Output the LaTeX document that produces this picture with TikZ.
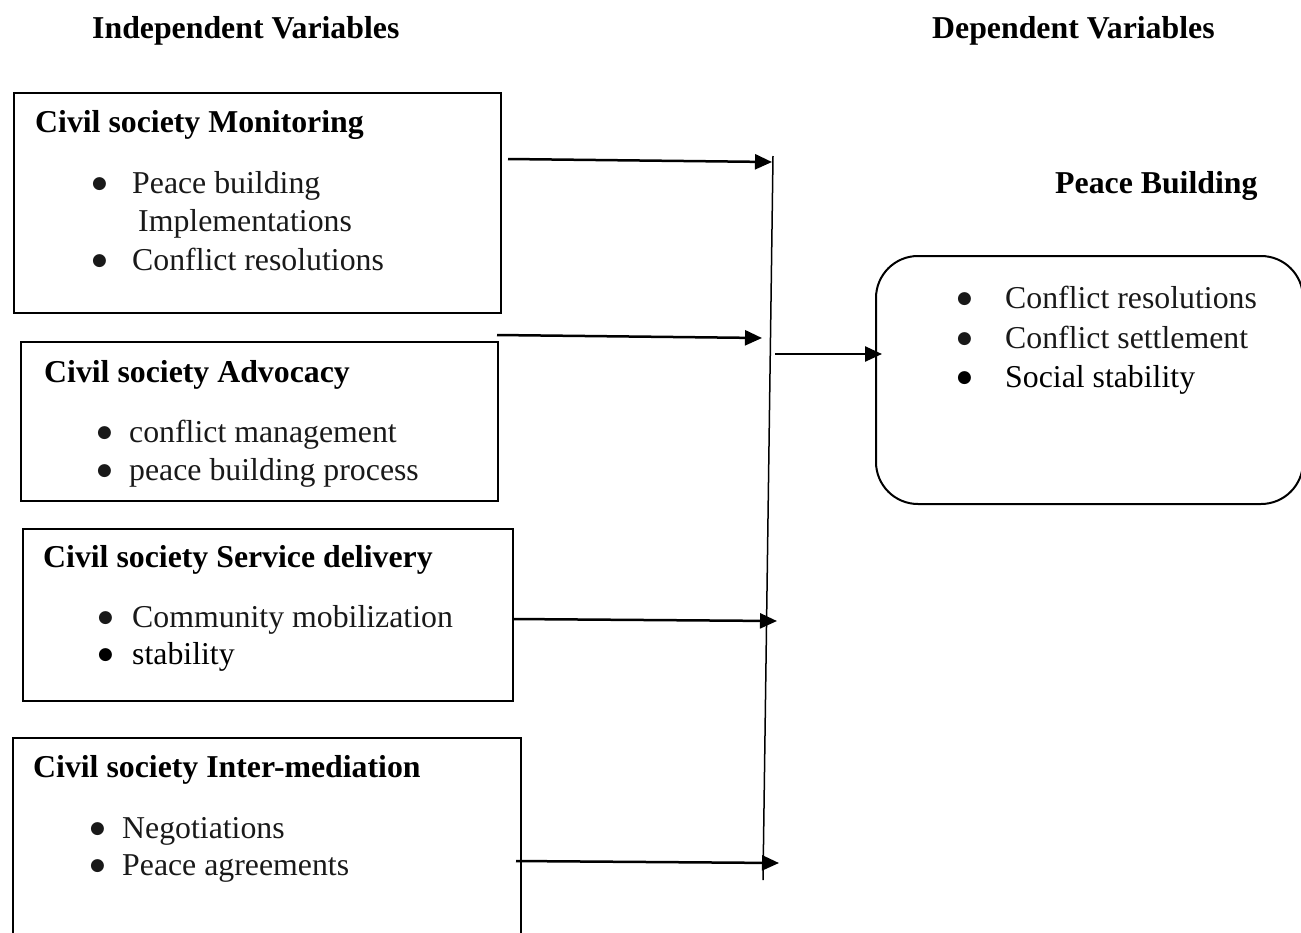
\documentclass[tikz,border=0pt]{standalone}
\usepackage{fontspec}
\setmainfont{Liberation Serif}
\newfontfamily\dotfont{DejaVu Sans}
\usetikzlibrary{arrows.meta,positioning}
\newcommand{\bul}[1]{\llap{\makebox[#1pt][l]{\raisebox{5pt}{\fontsize{17}{17}\dotfont ●}}}}

\begin{document}
\begin{tikzpicture}[x=1pt,y=-1pt,
  panel/.style={draw,line width=2pt,inner sep=0pt,anchor=north west},
  hd/.style={font=\fontsize{31.8}{39}\selectfont\bfseries,anchor=base west,inner sep=0pt},
  itm/.style={font=\fontsize{31.8}{39}\selectfont,text=black!90,anchor=base west,inner sep=0pt},
  flow/.style={line width=2.5pt,-{Triangle[length=17pt,width=15pt]}}]
  \useasboundingbox (0,0) rectangle (1301,932);
  % column headings
  \node[hd] (indep) at (92,38) {Independent Variables};
  \node[hd] (dep) at (932,38) {Dependent Variables};
  % independent variables
  \node[panel,minimum width=487pt,minimum height=220pt] (mon) at (13,92) {};
  \node[hd] (mon t) at (35,132) {Civil society Monitoring};
  \node[itm] (mon 1) at (132,193) {\bul{40.1}Peace building};
  \node[itm] (mon 2) at (138,231) {Implementations};
  \node[itm] (mon 3) at (132,270) {\bul{40.1}Conflict resolutions};
  \node[panel,minimum width=477pt,minimum height=159pt] (adv) at (20,341) {};
  \node[hd] (adv t) at (44,382) {Civil society Advocacy};
  \node[itm] (adv 1) at (129,442) {\bul{32.1}conflict management};
  \node[itm] (adv 2) at (129,480) {\bul{32.1}peace building process};
  \node[panel,minimum width=490pt,minimum height=172pt] (srv) at (22,528) {};
  \node[hd] (srv t) at (43,567) {Civil society Service delivery};
  \node[itm] (srv 1) at (132,627) {\bul{34.1}Community mobilization};
  \node[itm,text=black] (srv 2) at (132,664) {\bul{34.1}stability};
  \node[panel,minimum width=508pt,minimum height=220pt] (med) at (12,737) {};
  \node[hd] (med t) at (33,777) {Civil society Inter-mediation};
  \node[itm] (med 1) at (122,838) {\bul{32.1}Negotiations};
  \node[itm] (med 2) at (122,875) {\bul{32.1}Peace agreements};
  % dependent variable
  \node[hd] (pb t) at (1055,193) {Peace Building};
  \node[panel,rounded corners=42pt,minimum width=427pt,minimum height=248pt] (pb) at (875,255) {};
  \node[itm] (pb 1) at (1005,308) {\bul{48.1}Conflict resolutions};
  \node[itm] (pb 2) at (1005,348) {\bul{48.1}Conflict settlement};
  \node[itm,text=black] (pb 3) at (1005,387) {\bul{48.1}Social stability};
  % collecting line and arrows
  \coordinate (bus top) at (773,156);
  \coordinate (bus bot) at (763,880);
  \draw[line width=1.5pt] (bus top) -- (bus bot);
  \coordinate (s1) at (508,159);  \coordinate (e1) at (772,162);
  \coordinate (s2) at (497,335);  \coordinate (e2) at (762,338);
  \coordinate (s3) at (513,619);  \coordinate (e3) at (777,621);
  \coordinate (s4) at (516,861);  \coordinate (e4) at (779,863);
  \coordinate (s5) at (775,354);  \coordinate (e5) at (882,354);
  \draw[flow] (s1) -- (e1);
  \draw[flow] (s2) -- (e2);
  \draw[flow] (s3) -- (e3);
  \draw[flow] (s4) -- (e4);
  \draw[flow] (s5) -- (e5);
\end{tikzpicture}
\end{document}
